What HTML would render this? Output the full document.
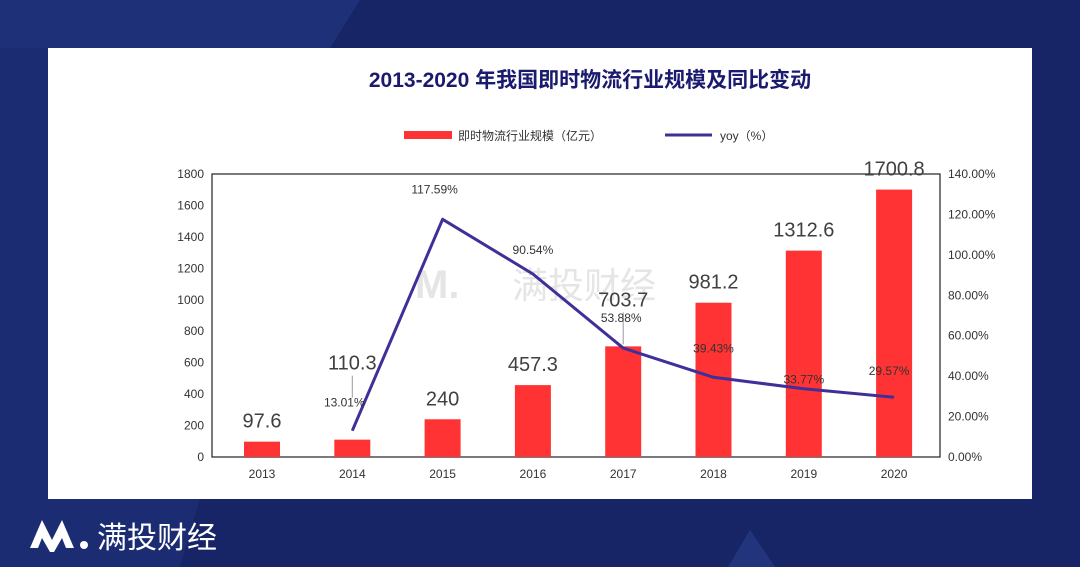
<!DOCTYPE html>
<html><head><meta charset="utf-8"><style>
body{margin:0;width:1080px;height:567px;overflow:hidden;background:#172566;font-family:"Liberation Sans","Noto Sans CJK SC",sans-serif;position:relative}
</style></head><body>
<svg width="1080" height="567" style="position:absolute;left:0;top:0">
<polygon points="0,0 360,0 330,48 0,48" fill="#1e3178"/>
<polygon points="0,48 330,48 180,567 0,567" fill="#1b2c72"/>
<polygon points="750,530 775,567 728,567" fill="#22357c"/>
<rect x="48" y="48" width="984" height="451" fill="#fff"/>
<text x="590" y="87" text-anchor="middle" font-size="21" font-weight="bold" fill="#1a1a6e">2013-2020 年我国即时物流行业规模及同比变动</text>
<g>
<rect x="404" y="131" width="48" height="8" fill="#ff3333"/>
<text x="458" y="140" font-size="12" fill="#333">即时物流行业规模（亿元）</text>
<line x1="665" y1="135" x2="712" y2="135" stroke="#3f2f99" stroke-width="3"/>
<text x="720" y="140" font-size="12" fill="#333">yoy（%）</text>
</g>
<g opacity="0.25">
<text x="415" y="298" font-size="40" font-weight="bold" fill="#999">M.</text>
<text x="512" y="298" font-size="36" fill="#999">满投财经</text>
</g>
<g id="plot"></g>
<g>
<path d="M30,548 L42,520 L52,540 L62,520 L74,548 L66,548 L62,538 L54,552 L50,552 L42,538 L38,548Z" fill="#fff"/>
<circle cx="84" cy="545" r="4" fill="#fff"/>
<text x="97" y="548" font-size="30" fill="#fff">满投财经</text>
</g>
</svg>
<script>
const categories=["2013","2014","2015","2016","2017","2018","2019","2020"];
const scaleValues=[97.6,110.3,240,457.3,703.7,981.2,1312.6,1700.8];
const yoyValues=[null,13.01,117.59,90.54,53.88,39.43,33.77,29.57];
const leftTicks=[0,200,400,600,800,1000,1200,1400,1600,1800];
const rightTicks=[0,20,40,60,80,100,120,140];
const NS="http://www.w3.org/2000/svg";
const g=document.getElementById('plot');
const L=212,R=940,T=174,B=457;
const yL=v=>B-v/1800*(B-T);
const yR=v=>B-v/140*(B-T);
const xC=i=>262+i*90.3;
function mk(tag,attrs,txt){const e=document.createElementNS(NS,tag);for(const k in attrs)e.setAttribute(k,attrs[k]);if(txt!==undefined)e.textContent=txt;g.appendChild(e);return e;}
let e=mk('rect',{x:L,y:T,width:R-L,height:B-T,fill:'none',stroke:'#222','stroke-width':1.2});


leftTicks.forEach(t=>{const el=mk('text',{x:L-8,y:yL(t)+4,'text-anchor':'end','font-size':12,fill:'#333'},String(t));

});
rightTicks.forEach(t=>{const el=mk('text',{x:R+8,y:yR(t)+4,'font-size':12,fill:'#333'},t.toFixed(2)+'%');

});
categories.forEach((c,i)=>{
const el=mk('text',{x:xC(i),y:478,'text-anchor':'middle','font-size':12,fill:'#333'},c);


const v=scaleValues[i];
const b=mk('rect',{x:xC(i)-18,y:yL(v),width:36,height:B-yL(v),fill:'#ff3333'});


let ly=yL(v)-14;
if(i==1)ly=yL(v)-70; if(i==4)ly=yL(v)-40;
if(i==1||i==4){const ln=mk('line',{x1:xC(i),y1:ly+6,x2:xC(i),y2:yL(v)-(i==1?42:2),stroke:'#999','stroke-width':1});

}
const lb=mk('text',{x:xC(i),y:ly,'text-anchor':'middle','font-size':20,fill:'#404040'},String(v));


});
let pts=[];yoyValues.forEach((v,i)=>{if(v!==null)pts.push(xC(i)+','+yR(v));});
const pl=mk('polyline',{points:pts.join(' '),fill:'none',stroke:'#3f2f99','stroke-width':3,'stroke-linejoin':'round'});


const off=[[0,0],[-8,-25],[-8,-26],[0,-20],[-2,0],[0,-25],[0,-5],[-5,-5]];
yoyValues.forEach((v,i)=>{if(v===null)return;
const el=mk('text',{x:xC(i)+off[i][0],y:(i==1?yR(v)-24:i==4?yR(v)-26:i==6?yR(v)-5:i==7?yR(v)-22:yR(v)+off[i][1]),'text-anchor':'middle','font-size':12,fill:'#333'},v.toFixed(2)+'%');

});
</script>
</body></html>
